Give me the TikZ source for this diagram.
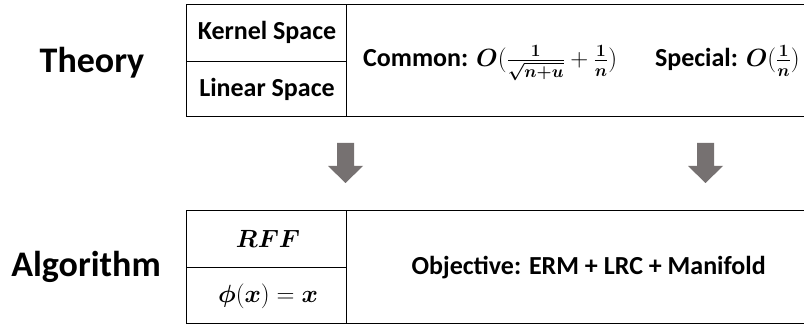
\documentclass[tikz,border=0pt]{standalone}
\usepackage{amsmath}
\usepackage{bm}
\usepackage{fontspec}
\setmainfont{Carlito}
\definecolor{arrowgray}{RGB}{118,113,113}
\newcommand{\mycommon}{Common: $\bm{O}(\bm{\frac{1}{\sqrt{n+u}}}+\bm{\frac{1}{n}})$}
\newcommand{\myspecial}{Special: $\bm{O}(\bm{\frac{1}{n}})$}
\newcommand{\myrff}{$\bm{RFF}$}
\newcommand{\myphi}{$\bm{\phi}(\bm{x})=\bm{x}$}
\tikzset{
  cell/.style={draw=black,line width=1.4pt,inner sep=0pt,anchor=north west},
  lbl/.style={font=\bfseries\fontsize{36}{40}\selectfont,inner sep=0pt},
  txt/.style={font=\bfseries\fontsize{26}{30}\selectfont,inner sep=0pt},
  mtxt/.style={font=\fontsize{25}{29}\selectfont,inner sep=0pt},
  garrow/.style={fill=arrowgray,draw=none}
}
\begin{document}
\begin{tikzpicture}[x=1pt,y=-1pt]
\useasboundingbox (0,0) rectangle (804,326);
\node[cell,minimum width=160pt,minimum height=57pt] (ks) at (186,4) {};
\node[cell,minimum width=160pt,minimum height=55pt] (ls) at (186,61) {};
\node[cell,minimum width=484pt,minimum height=112pt] (tr) at (346,4) {};
\node[txt] (kst) at (267,32) {Kernel Space};
\node[txt] (lst) at (267,89) {Linear Space};
\node[txt,anchor=base west] (common) at (363,67) {\mycommon};
\node[txt,anchor=base east] (special) at (800,67) {\myspecial};
\node[lbl] (theory) at (92,63) {Theory};
\node[cell,minimum width=160pt,minimum height=57pt] (rff) at (186,210) {};
\node[cell,minimum width=160pt,minimum height=56pt] (phi) at (186,267) {};
\node[cell,minimum width=484pt,minimum height=113pt] (br) at (346,210) {};
\node[mtxt] (rfft) at (268,239) {\myrff};
\node[txt] (phit) at (268,296) {\myphi};
\node[txt] (obj) at (br.center) {Objective: ERM + LRC + Manifold};
\node[lbl] (algo) at (86,267) {Algorithm};
\coordinate (a1) at (345.5,143);
\coordinate (a2) at (705.5,143);
\foreach \c in {a1,a2}{
  \fill[garrow] ([xshift=-8.5pt]\c) -- ([xshift=8.5pt]\c) -- ([xshift=8.5pt,yshift=-23pt]\c)
    -- ([xshift=17.5pt,yshift=-23pt]\c) -- ([yshift=-40pt]\c) -- ([xshift=-17.5pt,yshift=-23pt]\c)
    -- ([xshift=-8.5pt,yshift=-23pt]\c) -- cycle;
}
\end{tikzpicture}
\end{document}
